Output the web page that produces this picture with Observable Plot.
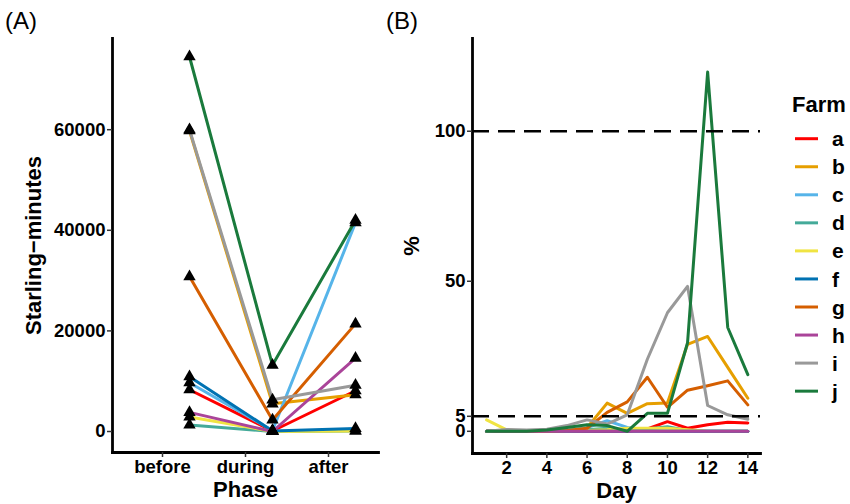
<!DOCTYPE html>
<html><head><meta charset="utf-8">
<script src="https://cdn.jsdelivr.net/npm/d3@7"></script>
<script src="https://cdn.jsdelivr.net/npm/@observablehq/plot@0.6"></script>
<style>
body{margin:0;background:#fff;font-family:"Liberation Sans",Arial,sans-serif;}
#wrap{position:relative;width:850px;height:504px;overflow:hidden;background:#fff}
#pa{position:absolute;left:0;top:0}
#pb{position:absolute;left:380px;top:0}
.tag{position:absolute;top:9px;font-size:24px;line-height:1;color:#000}
#legend{position:absolute;left:0;top:0;width:850px;height:504px;pointer-events:none}
</style></head><body><div id="wrap">
<div id="pa"></div><div id="pb"></div>
<div class="tag" style="left:5px">(A)</div>
<div class="tag" style="left:386px">(B)</div>
<svg id="legend" width="850" height="504"></svg>
</div>
<script>
// ---- data ----
const farms = ["a","b","c","d","e","f","g","h","i","j"];
const farmColors = ["#FF0000","#E69F00","#56B4E9","#44AA99","#F0E442","#0072B2","#D55E00","#AA4499","#999999","#1A7A3C"];
const phases = ["before","during","after"];
// Starling-minutes per farm (a..j)
const before = [8300, 59800, 9700, 1300, 2900, 10900, 30800, 3800, 60000, 74500];
const during = [100, 5500, 200, 0, 0, 100, 2300, 0, 6300, 13200];
const after  = [8100, 7300, 41500, 100, 100, 600, 21400, 14600, 9200, 42000];
const yTicksA = [0, 20000, 40000, 60000];
// % per day
const days = [1,2,3,4,5,6,7,8,9,10,11,12,13,14];
const pct_a = [0,0,0,0,0,0,0,0,0.8,3.2,1,2.2,3,2.8];
const pct_b = [0,0,0,0,0.3,1.2,9.4,6,9.2,9.4,29,31.6,21.3,11];
const pct_c = [0,0,0,0,0.3,1.2,3.5,1.3,0.3,0,0,0,0,0];
const pct_d = [0,0,0,0,0,0.5,1,0.3,0.8,1.5,0.3,0,0,0];
const pct_e = [3.8,0.5,0,0,0,0.3,0.5,1,1,1,0.5,0,0,0];
const pct_f = [0,0,0,0,0,0,0,0,0,0,0,0,0,0];
const pct_g = [0,0,0,0,0.3,1,6.3,9.8,18,8,13.7,15.2,16.8,8.8];
const pct_h = [0,0,0,0,0,0,0,0,0,0,0,0,0,0];
const pct_i = [0,0.6,0.4,0.7,1.9,3.8,2.4,5.5,24,39.5,48.3,8.6,5.5,4];
const pct_j = [0,0,0,0.4,1.3,2.2,1.9,0,6,6,29.5,119.7,34.6,18.9];
const dayTicks = [2,4,6,8,10,12,14];
const yTicksB = [0,5,50,100];
const thresholds = [5,100];

// ---- tables ----
const phaseVals = [before, during, after];
const rowsA = farms.flatMap((f,i)=>phases.map((p,k)=>({farm:f, phase:p, value:phaseVals[k][i]})));
const pctSeries = [pct_a,pct_b,pct_c,pct_d,pct_e,pct_f,pct_g,pct_h,pct_i,pct_j];
const rowsB = farms.flatMap((f,i)=>days.map((d,k)=>({farm:f, day:d, pct:pctSeries[i][k]})));

const font = "'Liberation Sans', Arial, sans-serif";
const baseStyle = {fontFamily:font, fontSize:"18.5px", fontWeight:"bold", color:"#000", background:"transparent", overflow:"visible"};
const colorScale = {domain:farms, range:farmColors};

const A = Plot.plot({
  width:380, height:504, marginLeft:112, marginRight:2, marginTop:38, marginBottom:52,
  style:baseStyle,
  x:{type:"point", domain:phases, padding:0.6},
  y:{domain:[-4175, 78130]},
  color:colorScale,
  marks:[
    Plot.frame({anchor:"left", stroke:"#000", strokeWidth:2.8}),
    Plot.frame({anchor:"bottom", stroke:"#000", strokeWidth:2.8}),
    Plot.axisX({tickSize:5, tickPadding:2, label:null, stroke:"#333", strokeWidth:1.5, fill:"#000"}),
    Plot.axisY({ticks:yTicksA, tickFormat:d=>String(d), tickSize:5, tickPadding:2, label:null, stroke:"#333", strokeWidth:1.5, fill:"#000"}),
    Plot.line(rowsA, {x:"phase", y:"value", z:"farm", stroke:"farm", strokeWidth:3, dx:27}),
    Plot.dot(rowsA, {x:"phase", y:"value", symbol:"triangle", fill:"#000", stroke:null, r:4.6, dx:27}),
    Plot.text(["Phase"], {frameAnchor:"bottom", dy:37, fontSize:22, fontWeight:"bold", lineAnchor:"middle", textAnchor:"middle", fill:"#000"}),
    Plot.text(["Starling\u2212minutes"], {frameAnchor:"left", dx:-79, rotate:-90, fontSize:22, fontWeight:"bold", lineAnchor:"middle", textAnchor:"middle", fill:"#000"})
  ]
});
document.getElementById("pa").appendChild(A);

const B = Plot.plot({
  width:390, height:504, marginLeft:92, marginRight:10, marginTop:38, marginBottom:51,
  style:baseStyle,
  x:{domain:[0.3, 14.63]},
  y:{domain:[-7.4, 130.9]},
  color:colorScale,
  marks:[
    Plot.frame({anchor:"left", stroke:"#000", strokeWidth:2.8}),
    Plot.frame({anchor:"bottom", stroke:"#000", strokeWidth:2.8}),
    Plot.axisX({ticks:dayTicks, tickSize:5, tickPadding:2, label:null, stroke:"#333", strokeWidth:1.5, fill:"#000"}),
    Plot.axisY({ticks:yTicksB, tickSize:5, tickPadding:2, label:null, stroke:"#333", strokeWidth:1.5, fill:"#000"}),
    Plot.line(rowsB, {x:"day", y:"pct", z:"farm", stroke:"farm", strokeWidth:3}),
    Plot.ruleY(thresholds, {stroke:"#000", strokeWidth:2.5, strokeDasharray:"17,9"}),
    Plot.text(["Day"], {frameAnchor:"bottom", dy:37, fontSize:22, fontWeight:"bold", lineAnchor:"middle", textAnchor:"middle", fill:"#000"}),
    Plot.text(["%"], {frameAnchor:"left", dx:-61, rotate:-90, fontSize:22, fontWeight:"bold", lineAnchor:"middle", textAnchor:"middle", fill:"#000"})
  ]
});
document.getElementById("pb").appendChild(B);

// ---- legend ----
const lg = d3.select("#legend");
lg.append("text").attr("x",792).attr("y",112).attr("font-family",font).attr("font-weight","bold").attr("font-size",22).text("Farm");
const items = lg.selectAll("g.it").data(farms).join("g").attr("class","it")
  .attr("transform",(d,i)=>`translate(0,${138.7 + i*28.05})`);
items.append("line").attr("x1",795).attr("x2",818).attr("y1",0).attr("y2",0)
  .attr("stroke",(d,i)=>farmColors[i]).attr("stroke-width",3);
items.append("text").attr("x",832).attr("y",0).attr("dy","0.36em").attr("font-family",font)
  .attr("font-weight","bold").attr("font-size",21).text(d=>d);
</script>
</body></html>
